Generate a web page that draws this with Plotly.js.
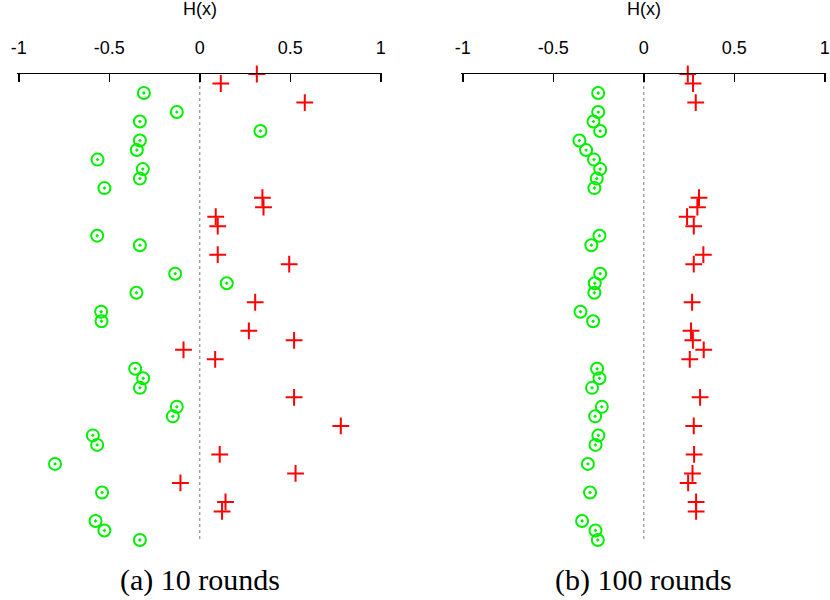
<!DOCTYPE html>
<html>
<head>
<meta charset="utf-8">
<script src="https://cdn.plot.ly/plotly-3.0.1.min.js"></script>
<style>html,body{margin:0;padding:0;background:#fff;}#chart{width:830px;height:600px;}</style>
</head>
<body>
<div id="chart"></div>
<script>
// class per row: 1 = red plus, 0 = green circle
const rowClass = [1,1,0,1,0,0,0,0,0,0, 0,0,0,1,1,1,1,0,0,1, 1,0,0,0,1,0,0,1,1,1, 1,0,0,0,1,0,0,1,0,0, 1,0,1,1,0,1,1,0,0,0];
// H(x) after 10 rounds
const h10 = [0.315,0.116,-0.309,0.58,-0.127,-0.331,0.335,-0.331,-0.348,-0.565,
             -0.315,-0.331,-0.527,0.346,0.352,0.088,0.099,-0.567,-0.331,0.099,
             0.494,-0.136,0.149,-0.35,0.306,-0.545,-0.543,0.271,0.521,-0.09,
             0.085,-0.357,-0.313,-0.331,0.521,-0.127,-0.149,0.779,-0.591,-0.567,
             0.11,-0.8,0.529,-0.107,-0.54,0.142,0.123,-0.576,-0.527,-0.331];
// H(x) after 100 rounds
const h100 = [0.243,0.272,-0.252,0.287,-0.252,-0.278,-0.241,-0.356,-0.319,-0.275,
              -0.241,-0.26,-0.273,0.305,0.296,0.239,0.276,-0.245,-0.29,0.329,
              0.276,-0.241,-0.271,-0.273,0.267,-0.35,-0.28,0.261,0.271,0.331,
              0.254,-0.258,-0.245,-0.286,0.311,-0.232,-0.269,0.276,-0.251,-0.267,
              0.278,-0.309,0.269,0.245,-0.297,0.289,0.289,-0.341,-0.267,-0.254];
const tickVals = [-1,-0.5,0,0.5,1];
const tickText = ['-1','-0.5','0','0.5','1'];
const captions = ['(a) 10 rounds','(b) 100 rounds'];

const GREEN = '#00f000', RED = '#ff0000';
const rows = rowClass.map((_, i) => i);

function traces(vals, xa, ya) {
  const gx = [], gy = [], rx = [], ry = [];
  vals.forEach((v, i) => {
    if (rowClass[i]) { rx.push(v); ry.push(rows[i]); } else { gx.push(v); gy.push(rows[i]); }
  });
  return [
    {x: gx, y: gy, xaxis: xa, yaxis: ya, type: 'scatter', mode: 'markers', cliponaxis: false,
     marker: {symbol: 'circle-open-dot', size: 12, color: GREEN, line: {color: GREEN, width: 2}}, hoverinfo: 'x'},
    {x: rx, y: ry, xaxis: xa, yaxis: ya, type: 'scatter', mode: 'markers', cliponaxis: false,
     marker: {symbol: 'cross-thin-open', size: 12, color: RED, line: {color: RED, width: 2}}, hoverinfo: 'x'}
  ];
}

const data = [...traces(h10, 'x', 'y'), ...traces(h100, 'x2', 'y2')];

const PT = 74, PB = 540;
const py = p => (PB - p) / (PB - PT);
const EXT = 1.008;           // tiny padding so the end ticks are drawn
const PXU = 181;             // pixels per unit
function dom(zeroPx) { return [(zeroPx - EXT * PXU) / 830, (zeroPx + EXT * PXU) / 830]; }

function xax(domain, anchor) {
  return {
    domain: domain, anchor: anchor, side: 'top', range: [-EXT, EXT], autorange: false,
    showgrid: false, zeroline: false, showline: true, linecolor: '#000', linewidth: 1.5,
    ticks: 'inside', ticklen: 8, tickwidth: 1.5, tickcolor: '#000',
    tickmode: 'array', tickvals: tickVals, ticktext: tickText,
    ticklabelstandoff: 11, ticklabeloverflow: 'allow',
    tickfont: {family: 'Liberation Sans, Arial, sans-serif', size: 18, color: '#000'},
    fixedrange: true
  };
}
function yax(anchor) {
  return {anchor: anchor, range: [rows.length - 1, 0], autorange: false, visible: false,
          showgrid: false, zeroline: false, fixedrange: true};
}

const annots = [];
['x', 'x2'].forEach((xr, k) => {
  annots.push({x: 0, xref: xr, y: py(9), yref: 'paper', text: 'H(x)', showarrow: false,
    xanchor: 'center', yanchor: 'middle', font: {family: 'Liberation Sans, Arial, sans-serif', size: 18, color: '#000'}});
  annots.push({x: 0, xref: xr, y: py(580), yref: 'paper', text: captions[k], showarrow: false,
    xanchor: 'center', yanchor: 'middle', font: {family: 'Liberation Serif, Times New Roman, serif', size: 30, color: '#000'}});
});

const shapes = [['x','y'],['x2','y2']].map(([xr, yr]) => ({
  type: 'line', xref: xr, yref: yr, x0: 0, x1: 0, y0: 0, y1: rows.length - 1,
  line: {color: '#777', width: 1, dash: 'dot'}, layer: 'below'
}));

const layout = {
  width: 830, height: 600, showlegend: false,
  margin: {l: 0, r: 0, t: PT, b: 600 - PB, pad: 0},
  paper_bgcolor: '#fff', plot_bgcolor: '#fff',
  xaxis: xax(dom(199.8), 'y'),
  yaxis: yax('x'),
  xaxis2: xax(dom(643.8), 'y2'),
  yaxis2: yax('x2'),
  annotations: annots, shapes: shapes
};

Plotly.newPlot('chart', data, layout, {displayModeBar: false, staticPlot: true});
</script>
</body>
</html>
